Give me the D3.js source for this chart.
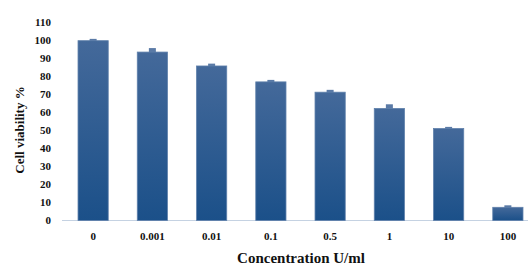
<!DOCTYPE html>
<html>
<head>
<meta charset="utf-8">
<script src="https://cdn.jsdelivr.net/npm/d3@7"></script>
<style>
  body { margin: 0; background: #fff; }
</style>
</head>
<body>
<svg id="chart" width="528" height="268"></svg>
<script>
const concentrations = ["0", "0.001", "0.01", "0.1", "0.5", "1", "10", "100"];
const viability = [99.5, 93.2, 85.5, 76.7, 71.0, 62.0, 50.9, 7.3];
const errors = [1.0, 2.2, 1.3, 1.1, 1.3, 2.3, 0.9, 1.1];
const yTicks = [0, 10, 20, 30, 40, 50, 60, 70, 80, 90, 100, 110];

const svg = d3.select("#chart")
    .attr("font-family", "'Liberation Serif', 'Times New Roman', serif")
    .attr("font-weight", "bold")
    .attr("fill", "#111");
const baseY = 220.5;

const x = d3.scaleBand()
    .domain(concentrations)
    .range([63.5, 537.5])
    .paddingInner(0.49)
    .paddingOuter(0.245);

const y = d3.scaleLinear()
    .domain([0, 110])
    .range([baseY, 21.7]);

// bar gradient
const grad = svg.append("defs").append("linearGradient")
    .attr("id", "barGrad")
    .attr("x1", 0).attr("y1", 0).attr("x2", 0).attr("y2", 1);
grad.append("stop").attr("offset", "0%").attr("stop-color", "#44699a");
grad.append("stop").attr("offset", "100%").attr("stop-color", "#1b5089");

// x axis line
svg.append("line")
    .attr("x1", 62).attr("x2", 528)
    .attr("y1", baseY).attr("y2", baseY)
    .attr("stroke", "#c5d2e2")
    .attr("stroke-width", 1.2);

// error caps
svg.append("g").selectAll("rect")
    .data(concentrations)
    .join("rect")
    .attr("x", d => x(d) + x.bandwidth() / 2 - 3.5)
    .attr("width", 7)
    .attr("y", (d, i) => y(viability[i] + errors[i]))
    .attr("height", (d, i) => y(viability[i]) - y(viability[i] + errors[i]) + 1)
    .attr("fill", "#5a7aa6");

// bars
svg.append("g").selectAll("rect")
    .data(concentrations)
    .join("rect")
    .attr("x", d => x(d))
    .attr("width", x.bandwidth())
    .attr("y", (d, i) => y(viability[i]))
    .attr("height", (d, i) => baseY - y(viability[i]))
    .attr("fill", "url(#barGrad)")
    .attr("stroke", "#5f80ab")
    .attr("stroke-width", 0.8);

// y tick labels
svg.append("g").selectAll("text")
    .data(yTicks)
    .join("text")
    .attr("x", 51)
    .attr("y", d => y(d))
    .attr("dy", "0.35em")
    .attr("text-anchor", "end")
    .attr("font-size", 11)
    .text(d => d);

// x tick labels
svg.append("g").selectAll("text")
    .data(concentrations)
    .join("text")
    .attr("x", d => x(d) + x.bandwidth() / 2)
    .attr("y", 240)
    .attr("text-anchor", "middle")
    .attr("font-size", 11)
    .text(d => d);

// axis titles
svg.append("text")
    .attr("transform", "translate(24,130) rotate(-90)")
    .attr("text-anchor", "middle")
    .attr("font-size", 13)
    .text("Cell viability  %");

svg.append("text")
    .attr("x", 301)
    .attr("y", 263)
    .attr("text-anchor", "middle")
    .attr("font-size", 15)
    .text("Concentration U/ml");
</script>
</body>
</html>
